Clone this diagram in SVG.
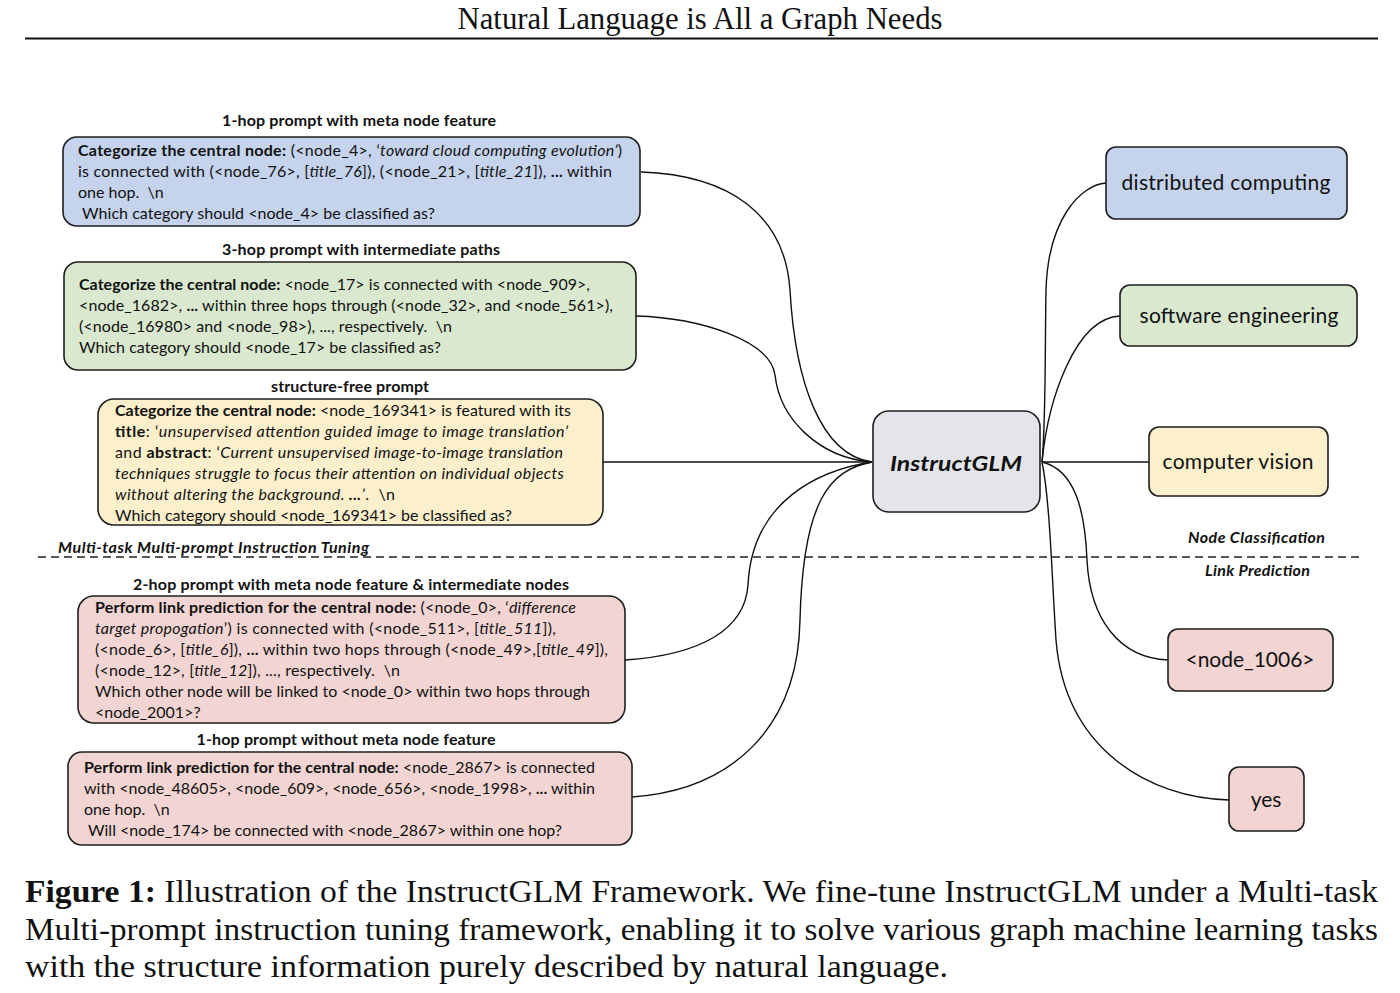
<svg xmlns="http://www.w3.org/2000/svg" width="1400" height="993" viewBox="0 0 1400 993">
<style>
.bx{stroke:#1e1e1e;stroke-width:1.6}
.blue{fill:#c5d3ec}.green{fill:#d9e8cf}.yellow{fill:#fcf0cc}.pink{fill:#f2d5d3}.gray{fill:#e3e5ea}
.t{font-family:Lato,"Open Sans","Liberation Sans",sans-serif;font-size:16px;fill:#111}
.lb{font-family:Lato,"Open Sans","Liberation Sans",sans-serif;font-size:16px;font-weight:bold;fill:#111;text-anchor:middle}
.nd{font-family:Lato,"Open Sans","Liberation Sans",sans-serif;font-size:21px;fill:#111;text-anchor:middle}
.b{font-weight:bold}.i{font-style:italic}
.sec{font-family:Lato,"Open Sans","Liberation Sans",sans-serif;font-size:16px;font-weight:bold;font-style:italic;fill:#111}
.cap{font-family:"Liberation Serif","Times New Roman",serif;font-size:32px;fill:#111}
.con{fill:none;stroke:#111;stroke-width:1.4}
</style>
<rect width="1400" height="993" fill="#fff"/>
<text x="700" y="29" class="cap" text-anchor="middle" font-size="30" textLength="485" lengthAdjust="spacingAndGlyphs">Natural Language is All a Graph Needs</text>
<line x1="25" y1="38.5" x2="1378" y2="38.5" stroke="#111" stroke-width="2"/>

<g id="connectors">
<path class="con" d="M641,172 C730,175 785,215 790,290 C795,380 820,455 872,462"/>
<path class="con" d="M636,316 C700,318 770,340 775,375 C780,420 820,458 872,462"/>
<path class="con" d="M603,462 L872,462"/>
<path class="con" d="M625,660 C700,655 745,630 748,585 C752,500 820,470 872,462"/>
<path class="con" d="M632,797 C730,790 798,730 800,620 C803,500 830,470 872,462"/>
<path class="con" d="M1042,462 C1046,420 1045,340 1046,290 C1048,220 1080,185 1106,183"/>
<path class="con" d="M1042,462 C1048,400 1075,318 1120,316"/>
<path class="con" d="M1042,462 L1149,462"/>
<path class="con" d="M1042,462 C1075,470 1085,510 1087,560 C1090,620 1120,658 1168,660"/>
<path class="con" d="M1042,462 C1050,500 1052,580 1056,640 C1065,750 1150,798 1229,800"/>
</g>

<g id="sections">
<line x1="38" y1="557" x2="1362" y2="557" stroke="#222" stroke-width="1.4" stroke-dasharray="8,5"/>
<text x="58" y="553" class="sec" textLength="311">Multi-task Multi-prompt Instruction Tuning</text>
<text x="1188" y="543" class="sec" textLength="137">Node Classification</text>
<text x="1205" y="576" class="sec" textLength="105">Link Prediction</text>
</g>

<g id="prompt1">
<text x="359" y="126" class="lb" textLength="274">1-hop prompt with meta node feature</text>
<rect x="63" y="137" width="577" height="89" rx="14" class="bx blue"/>
<text x="78" y="156" class="t" textLength="544"><tspan class="b">Categorize the central node:</tspan> (&lt;node_4&gt;, ‘<tspan class="i">toward cloud computing evolution’</tspan>)</text>
<text x="78" y="177" class="t" textLength="534">is connected with (&lt;node_76&gt;, [<tspan class="i">title_76</tspan>]), (&lt;node_21&gt;, [<tspan class="i">title_21</tspan>]), <tspan class="b">...</tspan> within</text>
<text x="78" y="198" class="t">one hop.&#160; \n</text>
<text x="82" y="219" class="t" textLength="353">Which category should &lt;node_4&gt; be classified as?</text>
</g>

<g id="prompt2">
<text x="361" y="255" class="lb" textLength="278">3-hop prompt with intermediate paths</text>
<rect x="64" y="262" width="572" height="108" rx="14" class="bx green"/>
<text x="79" y="290" class="t" textLength="511"><tspan class="b">Categorize the central node:</tspan> &lt;node_17&gt; is connected with &lt;node_909&gt;,</text>
<text x="79" y="311" class="t" textLength="534">&lt;node_1682&gt;, <tspan class="b">...</tspan> within three hops through (&lt;node_32&gt;, and &lt;node_561&gt;),</text>
<text x="79" y="332" class="t" textLength="373">(&lt;node_16980&gt; and &lt;node_98&gt;), ..., respectively.&#160; \n</text>
<text x="79" y="353" class="t" textLength="362">Which category should &lt;node_17&gt; be classified as?</text>
</g>

<g id="prompt3">
<text x="350" y="392" class="lb" textLength="158">structure-free prompt</text>
<rect x="98" y="399" width="505" height="126" rx="16" class="bx yellow"/>
<text x="115" y="416" class="t" textLength="456"><tspan class="b">Categorize the central node:</tspan> &lt;node_169341&gt; is featured with its</text>
<text x="115" y="437" class="t" textLength="453"><tspan class="b">title</tspan>: ‘<tspan class="i">unsupervised attention guided image to image translation’</tspan></text>
<text x="115" y="458" class="t" textLength="448">and <tspan class="b">abstract</tspan>: ‘<tspan class="i">Current unsupervised image-to-image translation</tspan></text>
<text x="115" y="479" class="t i" textLength="449">techniques struggle to focus their attention on individual objects</text>
<text x="115" y="500" class="t" textLength="280"><tspan class="i">without altering the background. </tspan><tspan class="b i">...</tspan><tspan class="i">’</tspan>.&#160; \n</text>
<text x="115" y="521" class="t" textLength="397">Which category should &lt;node_169341&gt; be classified as?</text>
</g>

<g id="prompt4">
<text x="351" y="590" class="lb" textLength="436">2-hop prompt with meta node feature &amp; intermediate nodes</text>
<rect x="78" y="596" width="547" height="127" rx="16" class="bx pink"/>
<text x="95" y="613" class="t" textLength="481"><tspan class="b">Perform link prediction for the central node:</tspan> (&lt;node_0&gt;, ‘<tspan class="i">difference</tspan></text>
<text x="95" y="634" class="t" textLength="461"><tspan class="i">target propogation</tspan>’) is connected with (&lt;node_511&gt;, [<tspan class="i">title_511</tspan>]),</text>
<text x="95" y="655" class="t" textLength="513">(&lt;node_6&gt;, [<tspan class="i">title_6</tspan>]), <tspan class="b">...</tspan> within two hops through (&lt;node_49&gt;,[<tspan class="i">title_49</tspan>]),</text>
<text x="95" y="676" class="t" textLength="305">(&lt;node_12&gt;, [<tspan class="i">title_12</tspan>]), ..., respectively.&#160; \n</text>
<text x="95" y="697" class="t" textLength="495">Which other node will be linked to &lt;node_0&gt; within two hops through</text>
<text x="95" y="718" class="t">&lt;node_2001&gt;?</text>
</g>

<g id="prompt5">
<text x="346" y="745" class="lb" textLength="299">1-hop prompt without meta node feature</text>
<rect x="68" y="752" width="564" height="93" rx="14" class="bx pink"/>
<text x="84" y="773" class="t" textLength="511"><tspan class="b">Perform link prediction for the central node:</tspan> &lt;node_2867&gt; is connected</text>
<text x="84" y="794" class="t" textLength="511">with &lt;node_48605&gt;, &lt;node_609&gt;, &lt;node_656&gt;, &lt;node_1998&gt;, <tspan class="b">...</tspan> within</text>
<text x="84" y="815" class="t">one hop.&#160; \n</text>
<text x="88" y="836" class="t" textLength="474">Will &lt;node_174&gt; be connected with &lt;node_2867&gt; within one hop?</text>
</g>

<g id="instructglm">
<rect x="873" y="411" width="167" height="101" rx="16" class="bx gray"/>
<text x="956" y="471" class="nd" font-size="28" font-weight="bold" font-style="italic" textLength="132" lengthAdjust="spacingAndGlyphs">InstructGLM</text>
</g>

<g id="distributed">
<rect x="1106" y="147" width="241" height="72" rx="10" class="bx blue"/>
<text x="1226" y="190" class="nd" textLength="209">distributed computing</text>
</g>
<g id="software">
<rect x="1120" y="285" width="237" height="61" rx="10" class="bx green"/>
<text x="1239" y="323" class="nd" textLength="199">software engineering</text>
</g>
<g id="vision">
<rect x="1149" y="427" width="179" height="69" rx="10" class="bx yellow"/>
<text x="1238" y="469" class="nd" textLength="151">computer vision</text>
</g>
<g id="node1006">
<rect x="1168" y="629" width="165" height="62" rx="10" class="bx pink"/>
<text x="1250" y="667" class="nd" textLength="129">&lt;node_1006&gt;</text>
</g>
<g id="yes">
<rect x="1229" y="767" width="75" height="64" rx="10" class="bx pink"/>
<text x="1266" y="807" class="nd">yes</text>
</g>

<g id="caption">
<text x="25" y="902" class="cap" textLength="1353" lengthAdjust="spacingAndGlyphs"><tspan font-weight="bold">Figure 1:</tspan> Illustration of the InstructGLM Framework. We fine-tune InstructGLM under a Multi-task</text>
<text x="25" y="940" class="cap" textLength="1353" lengthAdjust="spacingAndGlyphs">Multi-prompt instruction tuning framework, enabling it to solve various graph machine learning tasks</text>
<text x="25" y="977" class="cap" textLength="923" lengthAdjust="spacingAndGlyphs">with the structure information purely described by natural language.</text>
</g>
</svg>
